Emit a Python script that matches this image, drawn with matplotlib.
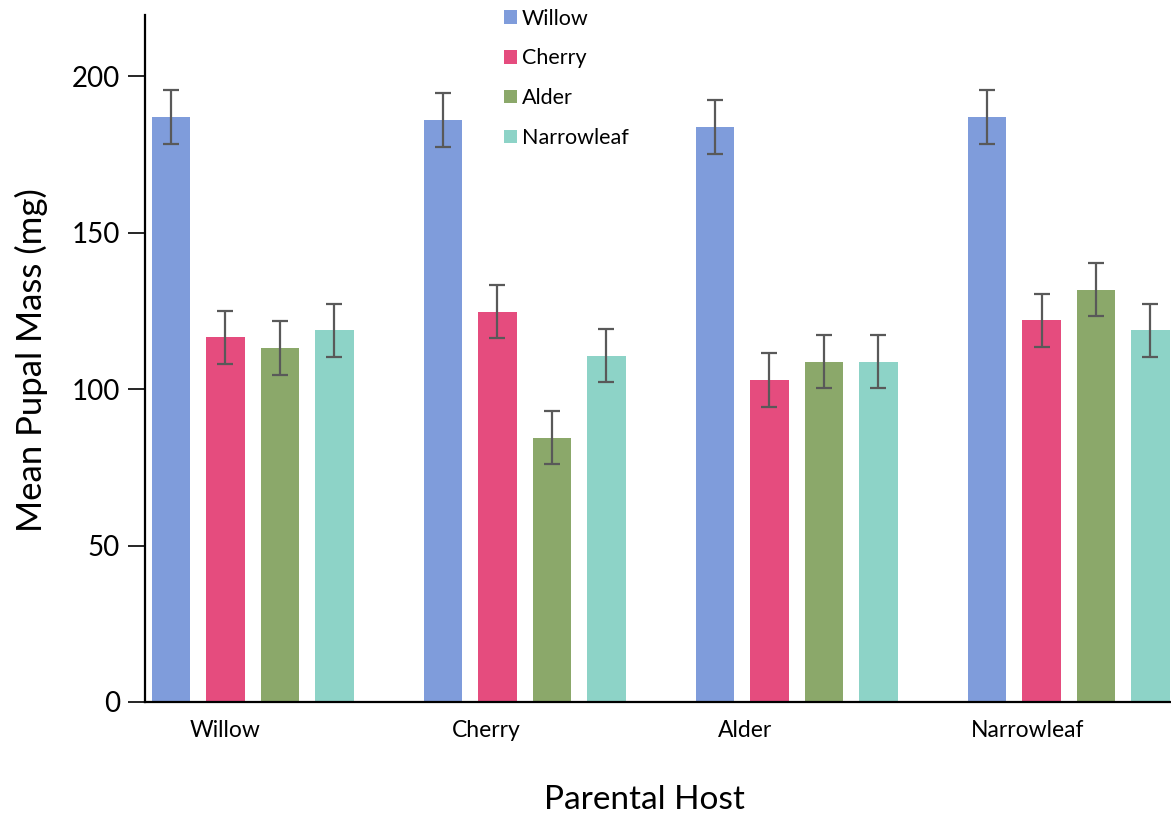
import matplotlib

matplotlib.use("Agg")
import matplotlib.pyplot as plt
import numpy as np
from matplotlib.patches import Patch

plt.rcParams["font.family"] = ["Lato", "DejaVu Sans"]

# Mean pupal mass by parental host (groups) and rearing host (bars)
hosts = ["Willow", "Cherry", "Alder", "Narrowleaf"]
series = ["Willow", "Cherry", "Alder", "Narrowleaf"]
means = {
    "Willow":     [187.0, 186.0, 183.8, 186.9],
    "Cherry":     [116.5, 124.7, 102.9, 121.9],
    "Alder":      [113.0, 84.4, 108.7, 131.7],
    "Narrowleaf": [118.7, 110.6, 108.7, 118.7],
}
errors = {
    "Willow":     [8.6, 8.6, 8.6, 8.5],
    "Cherry":     [8.4, 8.5, 8.5, 8.5],
    "Alder":      [8.6, 8.5, 8.5, 8.5],
    "Narrowleaf": [8.5, 8.5, 8.5, 8.5],
}
colors = ["#7F9CDB", "#E54C7E", "#8BA86A", "#8DD3C7"]

fig = plt.figure(figsize=(11.71, 8.19), dpi=100)
ax = fig.add_axes([145 / 1171, 1 - 702 / 819, 1 - 145 / 1171, (702 - 15) / 819])

group_step = len(series) + 1
base = np.arange(len(hosts)) * group_step
for j, name in enumerate(series):
    ax.bar(base + j, means[name], width=0.71, color=colors[j], zorder=2)
    ax.errorbar(base + j, means[name], yerr=errors[name], fmt="none",
                ecolor="#595959", elinewidth=1.6, capsize=6, capthick=1.6, zorder=3)

ax.set_xlim(-0.478, 18.38)
ax.set_ylim(0, 219.5)
ax.set_yticks([0, 50, 100, 150, 200])
ax.tick_params(axis="y", labelsize=20, length=12, width=1.2, pad=6)

# category labels sit a little left of the group centres
label_pos = [0.99, 5.79, 10.55, 15.75]
ax.set_xticks(label_pos)
ax.set_xticklabels(hosts)
ax.tick_params(axis="x", labelsize=16.5, length=0, pad=13)

for side in ("top", "right"):
    ax.spines[side].set_visible(False)
for side in ("left", "bottom"):
    ax.spines[side].set_linewidth(1.6)

fig.text(31 / 1171, 1 - 360 / 819, "Mean Pupal Mass (mg)", rotation=90,
         ha="center", va="center", fontsize=25)
fig.text(644 / 1171, 1 - 800 / 819, "Parental Host", ha="center",
         va="center", fontsize=24)

handles = [Patch(facecolor=c, edgecolor="none") for c in colors]
fig.legend(handles, series, loc="upper left", bbox_to_anchor=(495 / 1171, 1.0),
           frameon=False, fontsize=15.5, handlelength=0.6, handleheight=0.6,
           handletextpad=0.25, labelspacing=0.92, borderaxespad=0)

fig.savefig("out.png", dpi=100)
plt.close(fig)
